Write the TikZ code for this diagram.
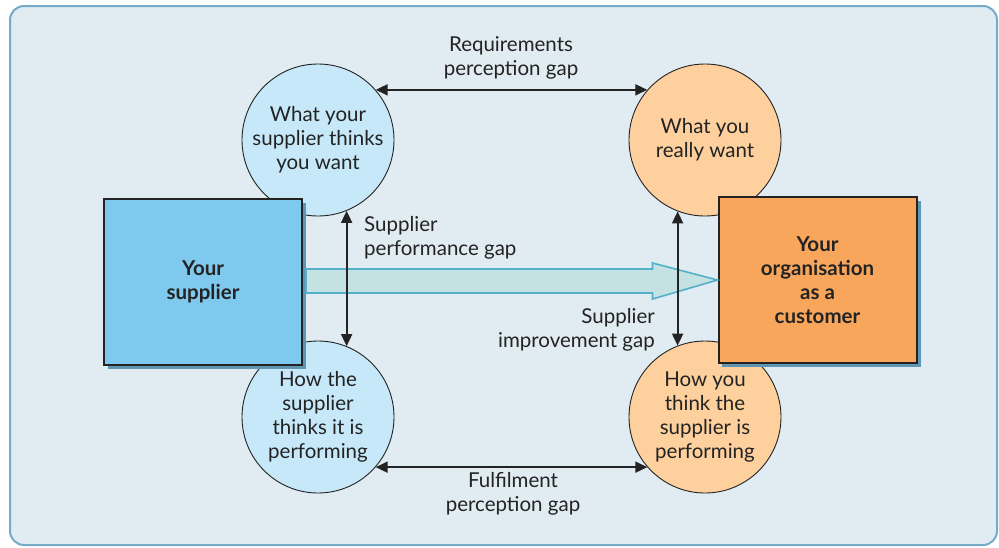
\documentclass[tikz,border=0pt]{standalone}
\usepackage{fontspec}
\setmainfont{Lato}
\definecolor{PanelFill}{RGB}{224,235,242}
\definecolor{PanelEdge}{RGB}{118,170,200}
\definecolor{SupplierBlue}{RGB}{127,201,238}
\definecolor{SupplierLight}{RGB}{198,232,248}
\definecolor{CustomerOrange}{RGB}{248,166,92}
\definecolor{CustomerLight}{RGB}{253,208,158}
\definecolor{ShadowBlue}{RGB}{96,150,178}
\definecolor{FlowFill}{RGB}{196,226,226}
\definecolor{FlowEdge}{RGB}{82,176,202}
\definecolor{InkGray}{RGB}{35,35,35}
\usepackage{tikz}
\usetikzlibrary{positioning, arrows.meta, calc}

\tikzset{
  gapcircle/.style={circle, draw=InkGray, line width=0.9pt, minimum size=152pt, inner sep=0pt, align=center, text=InkGray, font=\fontsize{20.5}{24}\selectfont},
  partybox/.style={rectangle, draw=InkGray, line width=2pt, minimum width=198pt, minimum height=166pt, align=center, text=InkGray, font=\fontsize{20.5}{24}\selectfont\bfseries},
  gaparrow/.style={{Triangle[length=12pt,width=11pt]}-{Triangle[length=12pt,width=11pt]}, line width=1.8pt, draw=InkGray},
  gaplabel/.style={text=InkGray, font=\fontsize{20.5}{24}\selectfont, inner sep=0pt}
}

\begin{document}
\begin{tikzpicture}[x=1pt, y=-1pt]
  \useasboundingbox (0,0) rectangle (999,547);
  \draw[PanelEdge, fill=PanelFill, line width=2pt, rounded corners=14pt] (10,6) rectangle (997,545);

  % the four views
  \node[gapcircle, fill=SupplierLight] (thinkswant) at (318,140) {What your\\supplier thinks\\you want};
  \node[gapcircle, fill=SupplierLight] (thinksperf) at (318,417) {How the\\supplier\\thinks it is\\performing};
  \node[gapcircle, fill=CustomerLight] (reallywant) at (705,140) {What you\\really want};
  \node[gapcircle, fill=CustomerLight] (youthink) at (705,417) {How you\\think the\\supplier is\\performing};

  % the two parties, with shadows
  \fill[ShadowBlue] (108,203) rectangle (306,369);
  \fill[ShadowBlue] (722,201) rectangle (921,367);
  \node[partybox, fill=SupplierBlue] (supplier) at (203,281.5) {Your\\supplier};
  \node[partybox, fill=CustomerOrange] (customer) at (817.5,280) {Your\\organisation\\as a\\customer};

  % improvement flow
  \draw[FlowEdge, fill=FlowFill, line width=1.6pt, line join=miter]
    ($(supplier.east)+(3,-12.5)$) -- ($(customer.west)+(-65,-11)$) -- ($(customer.west)+(-65,-17)$)
    -- (customer.west) -- ($(customer.west)+(-65,19)$) -- ($(customer.west)+(-65,13)$)
    -- ($(supplier.east)+(3,11.5)$) -- cycle;

  % gaps
  \draw[gaparrow] (thinkswant.41) -- (reallywant.139);
  \draw[gaparrow] (thinksperf.-41) -- (youthink.-139);
  \draw[gaparrow] (thinkswant.-68) -- (thinksperf.68);
  \draw[gaparrow] (reallywant.-111) -- (youthink.111);

  \node[gaplabel, align=center] (reqlabel) at (511,58) {Requirements\\perception gap};
  \node[gaplabel, align=center] (fullabel) at (513,494) {Fulfilment\\perception gap};
  \node[gaplabel, align=left, anchor=west] (perflabel) at (364,238) {Supplier\\performance gap};
  \node[gaplabel, align=right, anchor=east] (implabel) at (655,330) {Supplier\\improvement gap};
\end{tikzpicture}
\end{document}
